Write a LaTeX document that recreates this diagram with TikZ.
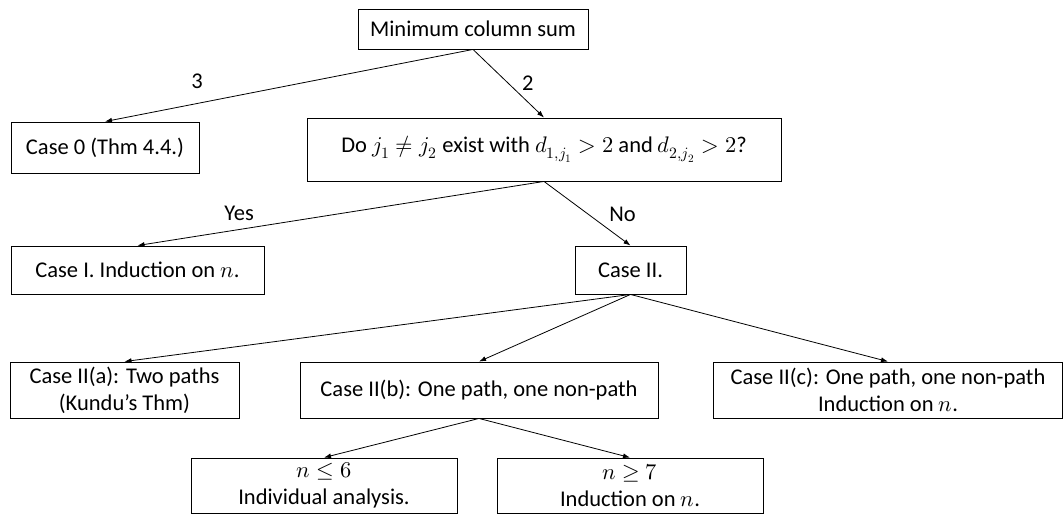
\documentclass[tikz,border=0pt]{standalone}
\usepackage{unicode-math}
\setmainfont{Carlito}
\setmathfont{Latin Modern Math}
\usepackage{tikz}
\usetikzlibrary{arrows.meta}

\begin{document}
\begin{tikzpicture}[x=1pt,y=1pt,
  box/.style={draw=drawColor,line width=0.9pt,text=drawColor,align=center,inner sep=0pt,font=\fontsize{22.5}{27}\selectfont},
  edge/.style={draw=drawColor,line width=0.8pt,-{Latex[length=7pt,width=5pt]}},
  lbl/.style={text=drawColor,font=\fontsize{22.5}{27}\selectfont,inner sep=0pt}]
\definecolor{drawColor}{RGB}{0,0,0}
\path[use as bounding box,fill=white] (0,0) rectangle (1064,514);

\node[box,minimum width=230,minimum height=40] (top) at (473,485) {Minimum column sum};

\node[box,minimum width=188,minimum height=51] (case0) at (105,366.5) {Case 0 (Thm 4.4.)};

\node[box,minimum width=474,minimum height=63] (ask) at (544,364.5) {Do $j_1 \neq j_2$ exist with $d_{1,j_1} > 2$ and $d_{2,j_2} > 2$?};

\node[box,minimum width=253,minimum height=48] (caseI) at (137.5,244) {Case I. Induction on $n$.};

\node[box,minimum width=111,minimum height=48] (caseII) at (630.5,244) {Case II.};

\node[box,minimum width=229,minimum height=56] (caseIIa) at (124.5,124) {Case II(a): Two paths\\(Kundu’s Thm)};

\node[box,minimum width=358,minimum height=56] (caseIIb) at (479,124) {Case II(b): One path, one non-path};

\node[box,minimum width=349,minimum height=56] (caseIIc) at (888,124) {Case II(c): One path, one non-path\\Induction on $n$.};

\node[box,minimum width=266,minimum height=55] (small) at (324,28.5) {$n \leq 6$\\Individual analysis.};

\node[box,minimum width=266,minimum height=55] (large) at (630,28.5) {$n \geq 7$\\Induction on $n$.};

\draw[edge] (top.south) -- node[lbl,pos=0.75,above=14pt] {3} (case0.north);
\draw[edge] (top.south) -- node[lbl,pos=0.49,right=14pt] {2} (ask.north);

\draw[edge] (ask.south) -- node[lbl,pos=0.75,above=8pt] {Yes} (caseI.north);
\draw[edge] (ask.south) -- node[lbl,pos=0.52,right=20pt] {No} (caseII.north);

\draw[edge] (caseII.south) -- (caseIIa.north);
\draw[edge] (caseII.south) -- (caseIIb.north);
\draw[edge] (caseII.south) -- (caseIIc.north);

\draw[edge] (caseIIb.south) -- (small.north);
\draw[edge] (caseIIb.south) -- (large.north);
\end{tikzpicture}
\end{document}
